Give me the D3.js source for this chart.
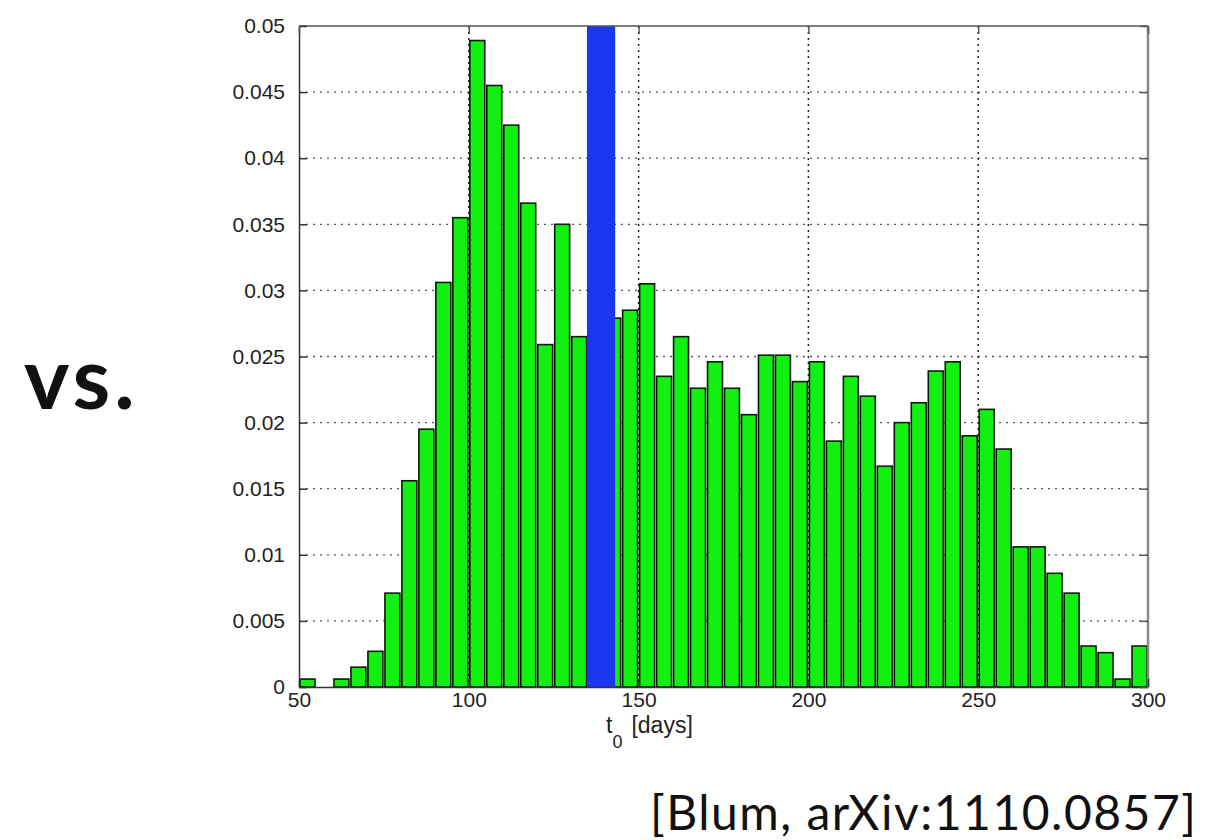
<!DOCTYPE html>
<html>
<head>
<meta charset="utf-8">
<script src="https://cdn.jsdelivr.net/npm/d3@7"></script>
<style>
  body { margin: 0; background: #fff; }
  svg text { font-family: "Liberation Sans", Arial, sans-serif; }
</style>
</head>
<body>
<div id="chart"></div>
<script>
// bin left edges (days), bin width 5
const binStarts = [50, 55, 60, 65, 70, 75, 80, 85, 90, 95,
                   100, 105, 110, 115, 120, 125, 130, 135, 140, 145,
                   150, 155, 160, 165, 170, 175, 180, 185, 190, 195,
                   200, 205, 210, 215, 220, 225, 230, 235, 240, 245,
                   250, 255, 260, 265, 270, 275, 280, 285, 290, 295];
const binWidth = 5;
const density = [0.0006, 0, 0.0006, 0.0015, 0.0027, 0.0071, 0.0156, 0.0195, 0.0306, 0.0355,
                 0.0489, 0.0455, 0.0425, 0.0366, 0.0259, 0.035, 0.0265, 0.0275, 0.0279, 0.0285,
                 0.0305, 0.0235, 0.0265, 0.0226, 0.0246, 0.0226, 0.0206, 0.0251, 0.0251, 0.0231,
                 0.0246, 0.0186, 0.0235, 0.022, 0.0167, 0.02, 0.0215, 0.0239, 0.0246, 0.019,
                 0.021, 0.018, 0.0106, 0.0106, 0.0086, 0.0071, 0.0031, 0.0026, 0.0006, 0.0031];
const observedBand = [134.8, 143.1];
const xTicks = [50, 100, 150, 200, 250, 300];
const yTicks = [0, 0.005, 0.01, 0.015, 0.02, 0.025, 0.03, 0.035, 0.04, 0.045, 0.05];

const W = 1209, H = 840;
const margin = { top: 26, right: 61, bottom: 153, left: 299 },
      width = W - margin.left - margin.right,
      height = H - margin.top - margin.bottom;

const svgRoot = d3.select("#chart").append("svg")
    .attr("width", W)
    .attr("height", H);

svgRoot.append("rect").attr("width", W).attr("height", H).attr("fill", "#fff");

const svg = svgRoot.append("g")
    .attr("transform", `translate(${margin.left},${margin.top})`);

const x = d3.scaleLinear().domain([50, 300]).range([0, width]);
const y = d3.scaleLinear().domain([0, 0.05]).range([height, 0]);

// grid (dotted, behind bars)
svg.append("g")
    .selectAll("line")
    .data(yTicks.filter(d => d > 0 && d < 0.05))
    .join("line")
    .attr("x1", 0).attr("x2", width)
    .attr("y1", d => y(d)).attr("y2", d => y(d))
    .attr("stroke", "#555")
    .attr("stroke-width", 1.3)
    .attr("stroke-dasharray", "2,5");

svg.append("g")
    .selectAll("line")
    .data(xTicks.filter(d => d > 50 && d < 300))
    .join("line")
    .attr("x1", d => x(d)).attr("x2", d => x(d))
    .attr("y1", 0).attr("y2", height)
    .attr("stroke", "#222")
    .attr("stroke-width", 1.5)
    .attr("stroke-dasharray", "2,4");

// histogram bars
const data = binStarts.map((b, i) => ({ start: b, value: density[i] }));
const pad = 0.06 * binWidth;

svg.selectAll(".bar")
    .data(data.filter(d => d.value > 0))
    .join("rect")
    .attr("class", "bar")
    .attr("x", d => x(d.start + pad))
    .attr("y", d => y(d.value))
    .attr("width", d => x(d.start + binWidth - pad) - x(d.start + pad))
    .attr("height", d => height - y(d.value))
    .attr("fill", "#12f012")
    .attr("stroke", "#0a1a0a")
    .attr("stroke-width", 1.6);

// observed value band
svg.append("rect")
    .attr("x", x(observedBand[0]))
    .attr("y", 0)
    .attr("width", x(observedBand[1]) - x(observedBand[0]))
    .attr("height", height)
    .attr("fill", "#1a36f0");

// axes frame
svg.append("line").attr("x1", 0).attr("x2", width).attr("y1", 0).attr("y2", 0)
    .attr("stroke", "#555").attr("stroke-width", 1.5);
svg.append("line").attr("x1", width).attr("x2", width).attr("y1", 0).attr("y2", height)
    .attr("stroke", "#888").attr("stroke-width", 2.5);

const xAxis = svg.append("g")
    .attr("transform", `translate(0,${height})`)
    .call(d3.axisBottom(x).tickValues(xTicks).tickSizeInner(-8).tickSizeOuter(0).tickPadding(5)
        .tickFormat(d3.format("d")));
xAxis.select(".domain").attr("stroke", "#333").attr("stroke-width", 1.5);
xAxis.selectAll(".tick line").attr("stroke", "#333").attr("stroke-width", 1.5);
xAxis.selectAll("text").style("font-size", "21px").attr("fill", "#222");

const yAxis = svg.append("g")
    .call(d3.axisLeft(y).tickValues(yTicks).tickSizeInner(-8).tickSizeOuter(0).tickPadding(14)
        .tickFormat(d => d === 0 ? "0" : d3.format("~g")(d)));
yAxis.select(".domain").attr("stroke", "#333").attr("stroke-width", 1.5);
yAxis.selectAll(".tick line").attr("stroke", "#333").attr("stroke-width", 1.5);
yAxis.selectAll("text").style("font-size", "21px").attr("fill", "#222");

// ticks on top and right
svg.append("g")
    .call(d3.axisTop(x).tickValues(xTicks).tickSizeInner(-8).tickSizeOuter(0).tickFormat(""))
    .call(g => g.select(".domain").remove())
    .selectAll("line").attr("stroke", "#555").attr("stroke-width", 1.5);
svg.append("g")
    .attr("transform", `translate(${width},0)`)
    .call(d3.axisRight(y).tickValues(yTicks).tickSizeInner(-8).tickSizeOuter(0).tickFormat(""))
    .call(g => g.select(".domain").remove())
    .selectAll("line").attr("stroke", "#555").attr("stroke-width", 1.5);

// x label
const xl = svgRoot.append("text")
    .attr("x", 606).attr("y", 733)
    .style("font-size", "23px")
    .attr("fill", "#222");
xl.append("tspan").text("t");
xl.append("tspan").attr("dy", 15).style("font-size", "18px").text("0");
xl.append("tspan").attr("dy", -15).attr("dx", 9).text("[days]");

// side and caption text
svgRoot.append("text")
    .attr("x", 24).attr("y", 409)
    .style("font-family", "Lato, 'Open Sans', sans-serif")
    .style("font-weight", "bold")
    .style("font-size", "86px")
    .style("letter-spacing", "4px")
    .attr("fill", "#111")
    .text("vs.");

svgRoot.append("text")
    .attr("x", 650).attr("y", 830)
    .style("font-family", "Lato, 'Open Sans', sans-serif")
    .style("font-size", "48px")
    .style("letter-spacing", "1.5px")
    .attr("fill", "#111")
    .text("[Blum, arXiv:1110.0857]");
</script>
</body>
</html>
